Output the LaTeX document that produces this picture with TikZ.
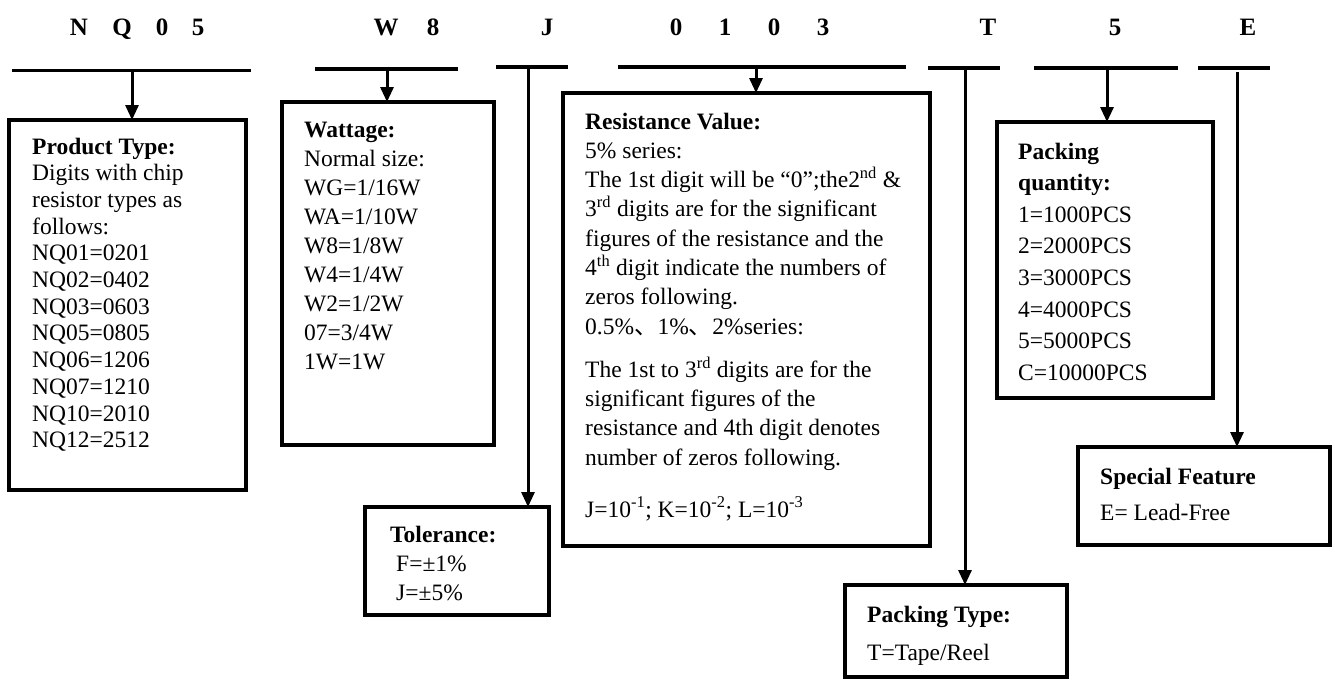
\documentclass[tikz,border=0pt]{standalone}
\usepackage{fontspec}
\setmainfont{Liberation Serif}
\newfontfamily\cjk{Noto Sans CJK SC}
\usetikzlibrary{arrows.meta}
\begin{document}
\begin{tikzpicture}[x=1pt,y=-1pt,
  bar/.style={line width=3.3pt},
  arr/.style={line width=3pt,-{Triangle[width=13pt,length=15pt]}},
  box/.style={draw,line width=3.3pt,anchor=north west,inner sep=0pt,outer sep=0pt},
  code/.style={font=\bfseries\fontsize{25}{30}\selectfont,inner sep=0pt,anchor=base},
  txt/.style={anchor=base west,inner sep=0pt}
]
\useasboundingbox (0,0) rectangle (1335,680);

% code letters
\node[code] (l1) at (79,35) {N};
\node[code] (l2) at (122,35) {Q};
\node[code] (l3) at (162,35) {0};
\node[code] (l4) at (198,35) {5};
\node[code] (l5) at (386,35) {W};
\node[code] (l6) at (433,35) {8};
\node[code] (l7) at (547,35) {J};
\node[code] (l8) at (676,35) {0};
\node[code] (l9) at (725,35) {1};
\node[code] (l10) at (774,35) {0};
\node[code] (l11) at (823,35) {3};
\node[code] (l12) at (988,35) {T};
\node[code] (l13) at (1115,35) {5};
\node[code] (l14) at (1248,35) {E};

% bars
\coordinate (b1l) at (12,70.7);  \coordinate (b1r) at (251,70.7);  \coordinate (c1) at (132,70.7);
\coordinate (b2l) at (315,69);   \coordinate (b2r) at (458,69);    \coordinate (c2) at (387,69);
\coordinate (b3l) at (496,67);   \coordinate (b3r) at (568,67);    \coordinate (c3) at (528,67);
\coordinate (b4l) at (618,67);   \coordinate (b4r) at (906,67);    \coordinate (c4) at (756,67);
\coordinate (b5l) at (928,68);   \coordinate (b5r) at (1000,68);   \coordinate (c5) at (965,68);
\coordinate (b6l) at (1034,68);  \coordinate (b6r) at (1178,68);   \coordinate (c6) at (1107,68);
\coordinate (b7l) at (1198,68);  \coordinate (b7r) at (1270,68);   \coordinate (c7) at (1237,72);
\foreach \i in {1,...,7} {\draw[bar] (b\i l) -- (b\i r);}

% boxes
\node[box,minimum width=237pt,minimum height=370pt] (prod) at (9,120) {};
\node[box,minimum width=212pt,minimum height=343pt] (watt) at (282,102) {};
\node[box,minimum width=367pt,minimum height=453pt] (res) at (563,93) {};
\node[box,minimum width=184pt,minimum height=108pt] (tol) at (365,507) {};
\node[box,minimum width=216pt,minimum height=276pt] (pq) at (997,122) {};
\node[box,minimum width=252pt,minimum height=98pt] (sf) at (1078,447) {};
\node[box,minimum width=222pt,minimum height=92pt] (pt) at (845,585) {};

% connectors
\draw[arr] (c1) -- (c1 |- prod.north);
\draw[arr] (c2) -- (c2 |- watt.north);
\draw[arr] (c3) -- (c3 |- tol.north);
\draw[arr] (c4) -- (c4 |- res.north);
\draw[arr] (c5) -- (c5 |- pt.north);
\draw[arr] (c6) -- (c6 |- pq.north);
\draw[arr] (c7) -- (c7 |- sf.north);

% texts
\node[txt] (prodtxt) at (32,154) {\fontsize{23.5}{26.7}\selectfont
\begin{tabular}[t]{@{}l@{}}
\textbf{Product Type:}\\
Digits with chip\\
resistor types as\\
follows:\\
NQ01=0201\\
NQ02=0402\\
NQ03=0603\\
NQ05=0805\\
NQ06=1206\\
NQ07=1210\\
NQ10=2010\\
NQ12=2512
\end{tabular}};

\node[txt] (watttxt) at (304,137) {\fontsize{23.5}{29.1}\selectfont
\begin{tabular}[t]{@{}l@{}}
\textbf{Wattage:}\\
Normal size:\\
WG=1/16W\\
WA=1/10W\\
W8=1/8W\\
W4=1/4W\\
W2=1/2W\\
07=3/4W\\
1W=1W
\end{tabular}};

\node[txt] (restxt) at (585,129) {\fontsize{23.5}{29.3}\selectfont
\begin{tabular}[t]{@{}l@{}}
\textbf{Resistance Value:}\\
5\% series:\\
The 1st digit will be “0”;the2\textsuperscript{nd} \&\\
3\textsuperscript{rd} digits are for the significant\\
figures of the resistance and the\\
4\textsuperscript{th} digit indicate the numbers of\\
zeros following.\\
0.5\%{\cjk 、}1\%{\cjk 、}2\%series:\\[13.7pt]
The 1st to 3\textsuperscript{rd} digits are for the\\
significant figures of the\\
resistance and 4th digit denotes\\
number of zeros following.\\[22.7pt]
J=10\textsuperscript{-1}; K=10\textsuperscript{-2}; L=10\textsuperscript{-3}
\end{tabular}};

\node[txt] (toltxt) at (390,542) {\fontsize{23.5}{29}\selectfont
\begin{tabular}[t]{@{}l@{}}
\textbf{Tolerance:}\\
\hspace{6pt}F=±1\%\\
\hspace{6pt}J=±5\%
\end{tabular}};

\node[txt] (pqtxt) at (1018,159) {\fontsize{23.5}{31.6}\selectfont
\begin{tabular}[t]{@{}l@{}}
\textbf{Packing}\\
\textbf{quantity:}\\
1=1000PCS\\
2=2000PCS\\
3=3000PCS\\
4=4000PCS\\
5=5000PCS\\
C=10000PCS
\end{tabular}};

\node[txt] (sftxt) at (1100,484) {\fontsize{23.5}{36}\selectfont
\begin{tabular}[t]{@{}l@{}}
\textbf{Special Feature}\\
E= Lead-Free
\end{tabular}};

\node[txt] (pttxt) at (867,622) {\fontsize{23.5}{38}\selectfont
\begin{tabular}[t]{@{}l@{}}
\textbf{Packing Type:}\\
T=Tape/Reel
\end{tabular}};
\end{tikzpicture}
\end{document}
